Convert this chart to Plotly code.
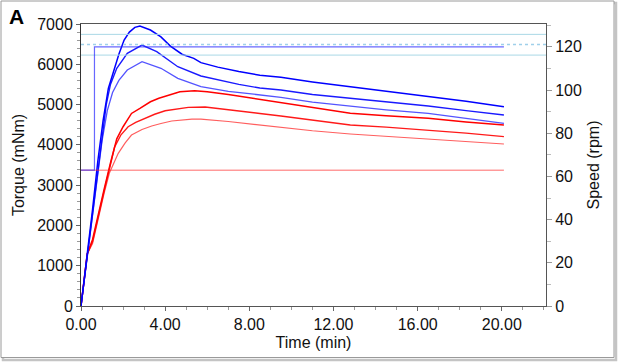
import plotly.graph_objects as go

# ---- data ----
b1_t = [0, 0.3, 0.55, 0.8, 1.05, 1.3, 1.55, 1.8, 2.05, 2.3, 2.56, 2.8, 3.3, 3.8, 4.25, 4.8, 5.36, 5.7, 6.5, 7.5, 8.5, 9.5, 11.0, 12.8, 13.3, 14.8, 16.5, 18.3, 20.1]
b1_T = [0, 1250, 2400, 3600, 4600, 5400, 5850, 6250, 6600, 6800, 6917, 6950, 6850, 6680, 6450, 6250, 6148, 6040, 5930, 5820, 5730, 5676, 5560, 5444, 5403, 5300, 5196, 5080, 4948]

b2_t = [0, 0.3, 0.55, 0.8, 1.0, 1.2, 1.4, 1.7, 2.2, 2.9, 3.6, 4.6, 5.7, 6.2, 7.5, 8.5, 9.5, 11.0, 12.8, 13.3, 14.8, 16.5, 18.3, 20.1]
b2_T = [0, 1250, 2350, 3450, 4300, 5000, 5500, 5900, 6272, 6478, 6313, 5940, 5709, 5650, 5500, 5410, 5361, 5250, 5155, 5130, 5050, 4964, 4850, 4741]

b3_t = [0, 0.3, 0.55, 0.8, 1.0, 1.25, 1.5, 1.8, 2.2, 2.9, 3.8, 4.6, 5.7, 7.0, 8.5, 9.5, 11.0, 12.8, 14.5, 16.5, 18.3, 20.1]
b3_T = [0, 1250, 2300, 3300, 4100, 4850, 5300, 5600, 5858, 6064, 5900, 5650, 5443, 5330, 5230, 5180, 5060, 4964, 4870, 4782, 4660, 4534]

r1_t = [0, 0.3, 0.55, 0.8, 1.1, 1.4, 1.7, 2.0, 2.4, 2.8, 3.3, 3.7, 4.3, 4.7, 5.4, 6.0, 7.0, 8.5, 9.5, 11.0, 12.8, 14.5, 16.5, 18.3, 20.1]
r1_T = [0, 1300, 1650, 2250, 2900, 3550, 4150, 4450, 4780, 4905, 5070, 5155, 5260, 5320, 5345, 5320, 5250, 5130, 5046, 4930, 4782, 4720, 4658, 4570, 4492]

r2_t = [0, 0.3, 0.55, 0.8, 1.1, 1.35, 1.6, 1.9, 2.24, 2.6, 3.04, 3.5, 4.0, 4.6, 5.1, 5.9, 7.0, 8.5, 9.5, 11.0, 12.8, 14.5, 16.5, 18.3, 20.1]
r2_T = [0, 1300, 1600, 2200, 2850, 3400, 3950, 4250, 4450, 4560, 4658, 4760, 4847, 4900, 4930, 4940, 4880, 4780, 4716, 4610, 4492, 4440, 4368, 4290, 4204]

r3_t = [0, 0.3, 0.55, 0.8, 1.1, 1.35, 1.77, 2.1, 2.4, 2.9, 3.36, 3.8, 4.31, 5.27, 5.7, 7.0, 8.5, 9.5, 11.0, 12.8, 14.5, 16.5, 18.3, 20.1]
r3_T = [0, 1300, 1550, 2150, 2800, 3300, 3790, 4050, 4244, 4380, 4468, 4530, 4592, 4641, 4641, 4580, 4490, 4435, 4350, 4269, 4210, 4137, 4080, 4021]

speed_blue_t = [0, 0.64, 0.64, 20.1]
speed_blue_rpm = [62.9, 62.9, 120.0, 120.0]
speed_red_t = [0, 20.1]
speed_red_rpm = [62.9, 62.9]

limit_t = [0, 22.1]
limit_upper = 125.8
limit_mid = 121.1
limit_lower = 116.2

x_ticks = [0, 4, 8, 12, 16, 20]
y_ticks = [0, 1000, 2000, 3000, 4000, 5000, 6000, 7000]
y2_ticks = [0, 20, 40, 60, 80, 100, 120]

# ---- figure ----
FONT = "Liberation Sans, Arial, sans-serif"
fig = go.Figure()

lim_col = "#aad8e6"
fig.add_trace(go.Scatter(x=limit_t, y=[limit_upper]*2, yaxis="y2", mode="lines",
                         line=dict(color=lim_col, width=1), hoverinfo="skip"))
fig.add_trace(go.Scatter(x=limit_t, y=[limit_lower]*2, yaxis="y2", mode="lines",
                         line=dict(color=lim_col, width=1), hoverinfo="skip"))
fig.add_trace(go.Scatter(x=limit_t, y=[limit_mid]*2, yaxis="y2", mode="lines",
                         line=dict(color="#9fd0ea", width=1.5, dash="dot"), hoverinfo="skip"))

fig.add_trace(go.Scatter(x=speed_red_t, y=speed_red_rpm, yaxis="y2", mode="lines",
                         line=dict(color="rgba(255,40,40,0.7)", width=1)))
fig.add_trace(go.Scatter(x=speed_blue_t, y=speed_blue_rpm, yaxis="y2", mode="lines",
                         line=dict(color="rgba(40,40,255,0.7)", width=1.2)))

for t, T, c, w in [(r3_t, r3_T, "rgba(255,40,40,0.75)", 1.2),
                   (r2_t, r2_T, "rgba(255,0,0,0.9)", 1.4),
                   (r1_t, r1_T, "#ff0000", 1.5),
                   (b3_t, b3_T, "rgba(40,40,255,0.8)", 1.3),
                   (b2_t, b2_T, "rgba(0,0,255,0.9)", 1.4),
                   (b1_t, b1_T, "#0000ff", 1.5)]:
    fig.add_trace(go.Scatter(x=t, y=T, mode="lines", line=dict(color=c, width=w)))

axis_font = dict(family=FONT, size=16, color="#111")
fig.update_layout(
    width=618, height=363,
    margin=dict(l=81, r=72, t=24, b=57, autoexpand=False),
    paper_bgcolor="white", plot_bgcolor="white",
    showlegend=False,
    font=dict(family=FONT, size=16, color="#111"),
    xaxis=dict(range=[0, 22.1], tickvals=x_ticks, ticktext=[f"{v:.2f}" for v in x_ticks],
               ticks="outside", ticklen=4, tickcolor="#666", automargin=False,
               minor=dict(dtick=1, ticks="outside", ticklen=3, tickcolor="#999", showgrid=False),
               showgrid=False, zeroline=False, showline=True, linecolor="#555", linewidth=1,
               mirror=True, tickfont=axis_font,
               title=dict(text="Time (min)", font=axis_font, standoff=4)),
    yaxis=dict(range=[0, 7000], tickvals=y_ticks, ticks="outside", ticklen=4, tickcolor="#666",
               automargin=False,
               minor=dict(dtick=200, ticks="outside", ticklen=3, tickcolor="#999", showgrid=False),
               showgrid=False, zeroline=False, showline=True, linecolor="#333", linewidth=1,
               tickfont=axis_font,
               title=dict(text="Torque (mNm)", font=axis_font, standoff=8)),
    yaxis2=dict(range=[0, 130.6], tickvals=y2_ticks, overlaying="y", side="right",
                ticks="outside", ticklen=5, tickcolor="#999", automargin=False,
                minor=dict(dtick=10, ticks="outside", ticklen=4, tickcolor="#bbb", showgrid=False),
                showgrid=False, zeroline=False, showline=True, linecolor="#555", linewidth=1,
                tickfont=axis_font,
                title=dict(text="Speed (rpm)", font=axis_font, standoff=6)),
)

# outer frame of the panel
def px(xp):
    return (xp - 81) / 465.0

def py(yp):
    return (306 - yp) / 282.0

fig.add_shape(type="rect", xref="paper", yref="paper",
              x0=px(3), x1=px(616), y0=py(360), y1=py(3),
              line=dict(color="#c4c4c4", width=2.5), fillcolor="rgba(0,0,0,0)", layer="below")
fig.add_shape(type="rect", xref="paper", yref="paper",
              x0=px(1), x1=px(614), y0=py(357.5), y1=py(1),
              line=dict(color="#9a9a9a", width=1), fillcolor="white", layer="below")

fig.add_annotation(text="<b>A</b>", xref="paper", yref="paper", x=px(16), y=py(17),
                   showarrow=False, font=dict(family=FONT, size=21, color="black"),
                   xanchor="center", yanchor="middle")

fig.write_html("out.html", config={"displayModeBar": False},
               post_script="document.body.style.margin='0';document.body.style.overflow='hidden';")
